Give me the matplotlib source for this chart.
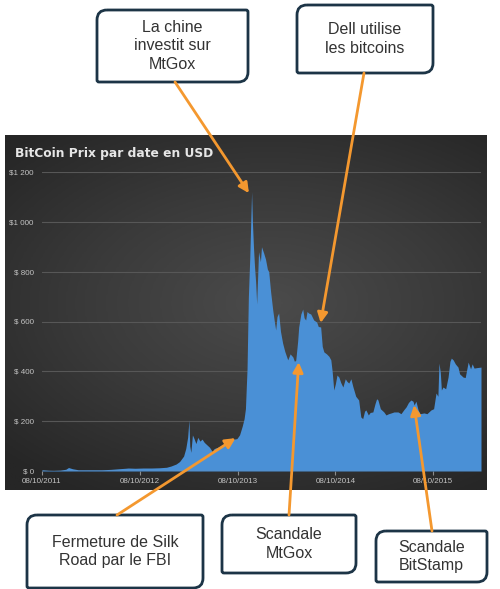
"""BitCoin price by date (USD), annotated with key events."""

import matplotlib

matplotlib.use("Agg")
import matplotlib.dates as mdates
import matplotlib.pyplot as plt
import numpy as np
import pandas as pd
from matplotlib.colors import LinearSegmentedColormap
from matplotlib.patches import ConnectionPatch, PathPatch
from matplotlib.path import Path

# --- data ----------------------------------------------------------------
dates = [
    "2011-10-08", "2011-11-01", "2011-11-20", "2011-12-15", "2012-01-05", "2012-01-15",
    "2012-01-30", "2012-02-20", "2012-03-15", "2012-04-20", "2012-05-20", "2012-06-20",
    "2012-07-20", "2012-08-15", "2012-08-25", "2012-09-20", "2012-10-20", "2012-11-20",
    "2012-12-20", "2013-01-15", "2013-02-01", "2013-02-20", "2013-03-05", "2013-03-20",
    "2013-03-28", "2013-04-04", "2013-04-09", "2013-04-12", "2013-04-16", "2013-04-22",
    "2013-04-28", "2013-05-05", "2013-05-12", "2013-05-20", "2013-05-28", "2013-06-05",
    "2013-06-15", "2013-06-25", "2013-07-05", "2013-07-12", "2013-07-25", "2013-08-10",
    "2013-08-25", "2013-09-10", "2013-09-25", "2013-10-05", "2013-10-15", "2013-10-25",
    "2013-11-01", "2013-11-06", "2013-11-12", "2013-11-17", "2013-11-22", "2013-11-29",
    "2013-12-02", "2013-12-06", "2013-12-10", "2013-12-14", "2013-12-18", "2013-12-21",
    "2013-12-25", "2014-01-01", "2014-01-05", "2014-01-13", "2014-01-20", "2014-01-27",
    "2014-02-01", "2014-02-08", "2014-02-16", "2014-02-22", "2014-02-27", "2014-03-04",
    "2014-03-10", "2014-03-17", "2014-03-25", "2014-04-02", "2014-04-13", "2014-04-22",
    "2014-05-02", "2014-05-08", "2014-05-13", "2014-05-20", "2014-05-24", "2014-06-01",
    "2014-06-08", "2014-06-13", "2014-06-19", "2014-06-24", "2014-06-30", "2014-07-08",
    "2014-07-19", "2014-07-30", "2014-08-05", "2014-08-14", "2014-08-20", "2014-08-26",
    "2014-09-05", "2014-09-14", "2014-09-21", "2014-09-26", "2014-10-02", "2014-10-08",
    "2014-10-14", "2014-10-21", "2014-10-28", "2014-11-05", "2014-11-14", "2014-11-20",
    "2014-11-27", "2014-12-05", "2014-12-12", "2014-12-23", "2015-01-03", "2015-01-11",
    "2015-01-18", "2015-01-25", "2015-01-30", "2015-02-08", "2015-02-15", "2015-02-25",
    "2015-03-05", "2015-03-11", "2015-03-16", "2015-03-25", "2015-04-07", "2015-04-15",
    "2015-04-25", "2015-05-04", "2015-05-15", "2015-05-30", "2015-06-10", "2015-06-20",
    "2015-06-29", "2015-07-08", "2015-07-17", "2015-07-25", "2015-07-29", "2015-08-05",
    "2015-08-13", "2015-08-20", "2015-09-04", "2015-09-15", "2015-09-30", "2015-10-10",
    "2015-10-19", "2015-10-26", "2015-10-30", "2015-11-04", "2015-11-08", "2015-11-14",
    "2015-11-24", "2015-12-03", "2015-12-10", "2015-12-15", "2015-12-22", "2015-12-30",
    "2016-01-09", "2016-01-15", "2016-01-20", "2016-01-28", "2016-02-05", "2016-02-16",
    "2016-02-25", "2016-03-02", "2016-03-09", "2016-03-20", "2016-04-04",
]
prices = [
    5, 3, 2.5, 3.5, 7, 14,
    9, 5, 5, 5, 5, 6.5,
    9, 11, 12, 11, 12, 12,
    13, 15, 20, 28, 38, 60,
    90, 135, 205, 100, 75, 145,
    130, 110, 135, 120, 128, 115,
    105, 95, 78, 90, 95, 102,
    115, 125, 128, 130, 145, 180,
    210, 250, 410, 700, 850, 1120,
    1000, 900, 820, 760, 670, 760,
    880, 840, 900, 875, 850, 810,
    800, 720, 646, 600, 566, 620,
    634, 560, 513, 480, 446, 470,
    458, 440, 445, 520, 578, 630,
    650, 615, 606, 640, 634, 630,
    606, 598, 580, 578, 500, 478,
    470, 460, 446, 400, 325, 350,
    385, 377, 355, 337, 370, 360,
    353, 370, 340, 300, 285, 217,
    210, 240, 245, 225, 235, 237,
    270, 290, 285, 250, 237, 225,
    230, 233, 237, 237, 230, 245,
    257, 275, 285, 280, 265, 280,
    245, 230, 233, 230, 245, 250,
    313, 300, 433, 395, 325, 337,
    330, 377, 440, 453, 446, 430,
    417, 390, 385, 377, 375, 437,
    410, 430, 413, 415, 417,
]

y_ticks = [0, 200, 400, 600, 800, 1000, 1200]
y_tick_labels = ["$ 0", "$ 200", "$ 400", "$ 600", "$ 800", "$1 000", "$1 200"]
x_ticks = ["2011-10-08", "2012-10-08", "2013-10-08", "2014-10-08", "2015-10-08"]
x_tick_labels = ["08/10/2011", "08/10/2012", "08/10/2013", "08/10/2014", "08/10/2015"]

# events: label, date / price the arrow points at
event_labels = [
    "La chine\ninvestit sur\nMtGox",
    "Dell utilise\nles bitcoins",
    "Fermeture de Silk\nRoad par le FBI",
    "Scandale\nMtGox",
    "Scandale\nBitStamp",
]
event_dates = ["2013-11-19", "2014-08-14", "2013-09-30", "2014-05-24", "2015-07-29"]
event_prices = [1115, 594, 132, 437, 265]

# --- styling -------------------------------------------------------------
W, H = 500, 589
BLUE = "#4a90d6"
ORANGE = "#f4982f"
NAVY = "#1c3446"
TEXT = "#333333"

boxes = [  # x0, y0, x1, y1 in pixels (y down)
    (97, 10, 248, 82),
    (297, 5, 433, 73),
    (27, 515, 203, 588),
    (222, 515, 356, 573),
    (376, 531, 487, 582),
]
arrow_starts = [(175, 82), (364, 73), (117, 515), (289, 515), (432, 531)]


def fx(px):
    return px / W


def fy(py):
    return 1 - py / H


def diag_box(x0, y0, x1, y1, r=10, s=2):
    """Rounded-diagonal-corner rectangle, pixel coords with y pointing down."""
    verts = [
        (x0 + r, y0), (x1 - s, y0), (x1, y0), (x1, y0 + s),
        (x1, y1 - r), (x1, y1), (x1 - r, y1),
        (x0 + s, y1), (x0, y1), (x0, y1 - s),
        (x0, y0 + r), (x0, y0), (x0 + r, y0),
    ]
    codes = [
        Path.MOVETO, Path.LINETO, Path.CURVE3, Path.CURVE3,
        Path.LINETO, Path.CURVE3, Path.CURVE3,
        Path.LINETO, Path.CURVE3, Path.CURVE3,
        Path.LINETO, Path.CURVE3, Path.CURVE3,
    ]
    return Path(verts, codes)


fig = plt.figure(figsize=(W / 100, H / 100), dpi=100)
fig.patch.set_facecolor("white")

# dark panel with a soft radial gradient
px0, py0, px1, py1 = 5, 135, 487, 490
bg = fig.add_axes([fx(px0), fy(py1), fx(px1 - px0), (py1 - py0) / H])
gx, gy = np.meshgrid(np.linspace(-1, 1, 300), np.linspace(-1, 1, 220))
dist = np.sqrt(((gx - 0.1) / 1.1) ** 2 + ((gy + 0.05) / 0.9) ** 2)
cmap = LinearSegmentedColormap.from_list("panel", ["#4b4b4b", "#3a3a3a", "#262626"])
bg.imshow(np.clip(dist, 0, 1.4), cmap=cmap, aspect="auto", extent=(0, 1, 0, 1))
bg.set_axis_off()

# chart area
ax = fig.add_axes([fx(42), fy(471), fx(481 - 42), (471 - 172) / H])
ax.set_facecolor("none")
d = pd.to_datetime(dates)
ax.fill_between(d, prices, 0, color=BLUE, linewidth=0, zorder=2)
ax.set_xlim(d[0], d[-1])
ax.set_ylim(0, 1200)
ax.set_yticks(y_ticks)
ax.set_yticklabels(y_tick_labels)
ax.set_xticks(pd.to_datetime(x_ticks))
ax.set_xticklabels(x_tick_labels)
for t in y_ticks[1:]:
    ax.axhline(t, color="#575757", linewidth=0.8, zorder=1)
ax.axhline(0, color="#8c8c8c", linewidth=0.9, zorder=3)
for s in ax.spines.values():
    s.set_visible(False)
ax.tick_params(axis="y", length=0, pad=6, labelsize=5.8, labelcolor="#c4c4c4")
ax.tick_params(axis="x", length=3, width=0.8, color="#8c8c8c", pad=2,
               labelsize=5.8, labelcolor="#c4c4c4")
for lab in ax.get_xticklabels() + ax.get_yticklabels():
    lab.set_fontfamily("Liberation Sans")

fig.text(fx(15), fy(153), "BitCoin Prix par date en USD", color="#e6e6e6",
         fontsize=8.8, fontweight="bold", va="center", ha="left",
         family="DejaVu Sans")

# overlay in pixel coordinates for callouts
ov = fig.add_axes([0, 0, 1, 1], zorder=10)
ov.set_xlim(0, W)
ov.set_ylim(H, 0)
ov.set_axis_off()
ov.patch.set_alpha(0)

for label, box, start, ed, ep in zip(event_labels, boxes, arrow_starts,
                                     event_dates, event_prices):
    x0, y0, x1, y1 = box
    ov.add_patch(PathPatch(diag_box(x0, y0, x1, y1), facecolor="white",
                           edgecolor=NAVY, linewidth=2, zorder=2))
    ov.text((x0 + x1) / 2, (y0 + y1) / 2, label, ha="center", va="center",
            fontsize=11.5, color=TEXT, family="Liberation Sans",
            linespacing=1.3, zorder=3)
    con = ConnectionPatch(
        xyA=start, coordsA=ov.transData,
        xyB=(mdates.date2num(pd.Timestamp(ed)), ep), coordsB=ax.transData,
        arrowstyle="-|>,head_length=0.6,head_width=0.3",
        color=ORANGE, linewidth=2, shrinkA=0, shrinkB=0, zorder=20,
    )
    fig.add_artist(con)

fig.savefig("out.png", dpi=100)
